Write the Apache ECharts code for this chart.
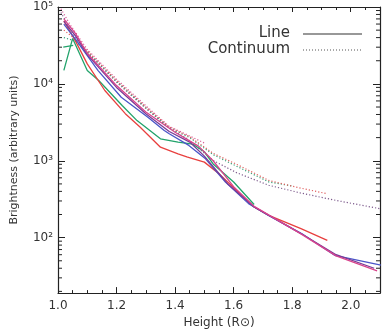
<!DOCTYPE html>
<html><head><meta charset="utf-8">
<script src="https://cdn.jsdelivr.net/npm/echarts@6/dist/echarts.min.js"></script>
<style>html,body{margin:0;padding:0;background:#fff}#c{width:383px;height:334px}</style>
</head><body><div id="c"></div>
<script>
// ---- data ----
const xTicks = [1.0, 1.2, 1.4, 1.6, 1.8, 2.0];
const yTickLabels = ['10²', '10³', '10⁴', '10⁵'];

const redLineH = [1.02, 1.06, 1.10, 1.16, 1.23, 1.28, 1.35, 1.41, 1.44, 1.50, 1.55, 1.61, 1.67, 1.72, 1.83, 1.92];
const redLineV = [66000, 36000, 18200, 8200, 4100, 2750, 1500, 1230, 1120, 960, 680, 410, 250, 195, 131, 92];

const greenLineH = [1.02, 1.05, 1.10, 1.14, 1.22, 1.27, 1.35, 1.41, 1.46, 1.50, 1.53, 1.60, 1.67];
const greenLineV = [15000, 39000, 14900, 11000, 5200, 3330, 1930, 1750, 1650, 1310, 910, 530, 270];
const green2LineH = [1.018, 1.052];
const green2LineV = [30000, 31600];

const blueLineH = [1.02, 1.06, 1.137, 1.216, 1.306, 1.363, 1.38, 1.447, 1.504, 1.572, 1.651, 1.719, 1.832, 1.945, 2.103];
const blueLineV = [60000, 38000, 14900, 6700, 3700, 2480, 2245, 1585, 1060, 528, 277, 195, 113, 59, 44];

const purpleLineH = [1.02, 1.06, 1.10, 1.20, 1.30, 1.38, 1.45, 1.50, 1.58, 1.67, 1.83, 1.95, 2.08];
const purpleLineV = [65000, 42000, 24000, 9000, 4100, 2400, 1750, 1150, 500, 250, 113, 60, 40];

const magentaLineH = [1.02, 1.06, 1.10, 1.20, 1.30, 1.40, 1.48, 1.53, 1.60, 1.67, 1.83, 1.95, 2.09];
const magentaLineV = [70000, 45000, 25000, 9500, 4300, 2350, 1550, 1000, 460, 255, 112, 58, 37];

const purpleContH = [1.01, 1.05, 1.10, 1.20, 1.30, 1.38, 1.44, 1.53, 1.61, 1.72, 1.83, 1.95, 2.10];
const purpleContV = [85000, 45000, 26000, 10500, 4800, 2650, 1950, 1010, 700, 480, 380, 305, 238];
const redContH = [1.02, 1.06, 1.10, 1.20, 1.30, 1.38, 1.45, 1.53, 1.61, 1.72, 1.83, 1.92];
const redContV = [50000, 38000, 27000, 11000, 5000, 2750, 2050, 1250, 900, 555, 440, 372];
const greenContH = [1.02, 1.06, 1.10, 1.20, 1.30, 1.38, 1.45, 1.53, 1.61, 1.72, 1.80];
const greenContV = [40000, 36000, 26000, 10800, 4900, 2700, 2000, 1200, 850, 530, 470];
const pinkContH = [1.01, 1.04, 1.10, 1.20, 1.30, 1.38, 1.45, 1.50];
const pinkContV = [95000, 60000, 28000, 11500, 5200, 2800, 2100, 1700];

const X_MIN = 1.0, X_MAX = 2.1, Y_MIN = 19, Y_MAX = 100000;

// ---- build ----
const zip = (h, v) => h.map((x, i) => [x, v[i]]);
const minorVals = [];
[10, 100, 1000, 10000].forEach(d => { for (let k = 2; k <= 9; k++) { const v = k * d; if (v >= Y_MIN && v <= Y_MAX) minorVals.push(v); } });

const txt = '#333';
function solid(name, h, v, color) {
  return { type: 'line', name, data: zip(h, v), symbol: 'none', smooth: false,
    lineStyle: { color, width: 1.3, type: 'solid' }, z: 3, silent: true };
}
function dotted(name, h, v, color) {
  return { type: 'line', name, data: zip(h, v), symbol: 'none', smooth: false,
    lineStyle: { color, width: 1.2, type: [1.2, 2] }, z: 2, silent: true };
}
function minorTicks(xAt, dir) {
  return { type: 'custom', silent: true, z: 6,
    data: minorVals.map(v => [xAt, v]), encode: { x: 0, y: 1 },
    renderItem: (p, api) => {
      const c = api.coord([api.value(0), api.value(1)]);
      return { type: 'line', shape: { x1: c[0], y1: c[1], x2: c[0] + dir * 4, y2: c[1] },
        style: { stroke: '#222', lineWidth: 1 } };
    } };
}

const chart = echarts.init(document.getElementById('c'), null, { renderer: 'canvas' });
chart.setOption({
  animation: false,
  backgroundColor: '#fff',
  grid: { left: 58, right: -1, top: 7, bottom: 40 },
  xAxis: [{
    type: 'value', min: X_MIN, max: X_MAX, interval: 0.2, position: 'bottom',
    name: 'Height (R⊙)', nameLocation: 'middle', nameGap: 22,
    nameTextStyle: { color: txt, fontSize: 12, fontFamily: 'DejaVu Sans' },
    axisLine: { lineStyle: { color: '#222', width: 1.2 } },
    axisTick: { inside: true, length: 6, lineStyle: { color: '#222' } },
    minorTick: { show: true, splitNumber: 4, length: 3, lineStyle: { color: '#222' } },
    splitLine: { show: false },
    axisLabel: { color: txt, fontSize: 12, fontFamily: 'DejaVu Sans', margin: 7,
      formatter: v => xTicks.some(t => Math.abs(t - v) < 1e-6) ? v.toFixed(1) : '' }
  }, {
    type: 'value', min: X_MIN, max: X_MAX, interval: 0.2, position: 'top',
    axisLine: { lineStyle: { color: '#222', width: 1.2 } },
    axisTick: { inside: true, length: 5, lineStyle: { color: '#222' } },
    minorTick: { show: true, splitNumber: 4, length: 3, lineStyle: { color: '#222' } },
    splitLine: { show: false }, axisLabel: { show: false }
  }],
  yAxis: [{
    type: 'log', logBase: 10, min: Y_MIN, max: Y_MAX, position: 'left',
    name: 'Brightness (arbitrary units)', nameLocation: 'middle', nameGap: 38,
    nameTextStyle: { color: txt, fontSize: 11, fontFamily: 'DejaVu Sans' },
    axisLine: { show: true, lineStyle: { color: '#222', width: 1.2 } },
    axisTick: { show: true, inside: true, length: 7, lineStyle: { color: '#222' } },
    splitLine: { show: false },
    axisLabel: { color: txt, fontSize: 12, fontFamily: 'DejaVu Sans', margin: 5,
      formatter: v => { const e = Math.log10(v); const r = Math.round(e);
        return Math.abs(e - r) < 1e-6 && r >= 2 && r <= 5 ? yTickLabels[r - 2] : ''; } }
  }, {
    type: 'log', logBase: 10, min: Y_MIN, max: Y_MAX, position: 'right',
    axisLine: { show: true, lineStyle: { color: '#222', width: 1.2 } },
    axisTick: { show: true, inside: true, length: 7, lineStyle: { color: '#222' } },
    splitLine: { show: false }, axisLabel: { show: false }
  }],
  series: [
    dotted('purpleCont', purpleContH, purpleContV, '#7d5a8c'),
    dotted('greenCont', greenContH, greenContV, '#3aa37a'),
    dotted('redCont', redContH, redContV, '#e06060'),
    dotted('pinkCont', pinkContH, pinkContV, '#d9609a'),
    solid('green', greenLineH, greenLineV, '#22a36b'),
    solid('green2', green2LineH, green2LineV, '#22a36b'),
    solid('red', redLineH, redLineV, '#e8403f'),
    solid('blue', blueLineH, blueLineV, '#4a55c8'),
    solid('purple', purpleLineH, purpleLineV, '#7a3c96'),
    solid('magenta', magentaLineH, magentaLineV, '#d8438c'),
    minorTicks(X_MIN, 1),
    minorTicks(X_MAX, -1)
  ],
  graphic: [
    { type: 'text', right: 93, top: 26, style: { text: 'Line', fill: txt, fontSize: 15, fontFamily: 'DejaVu Sans', textAlign: 'right' } },
    { type: 'text', right: 93, top: 42, style: { text: 'Continuum', fill: txt, fontSize: 15, fontFamily: 'DejaVu Sans', textAlign: 'right' } },
    { type: 'line', shape: { x1: 303, y1: 34, x2: 362, y2: 34 }, style: { stroke: '#333', lineWidth: 1.2 } },
    { type: 'line', shape: { x1: 303, y1: 50, x2: 362, y2: 50 }, style: { stroke: '#555', lineWidth: 1, lineDash: [1, 2] } }
  ]
});
</script></body></html>
